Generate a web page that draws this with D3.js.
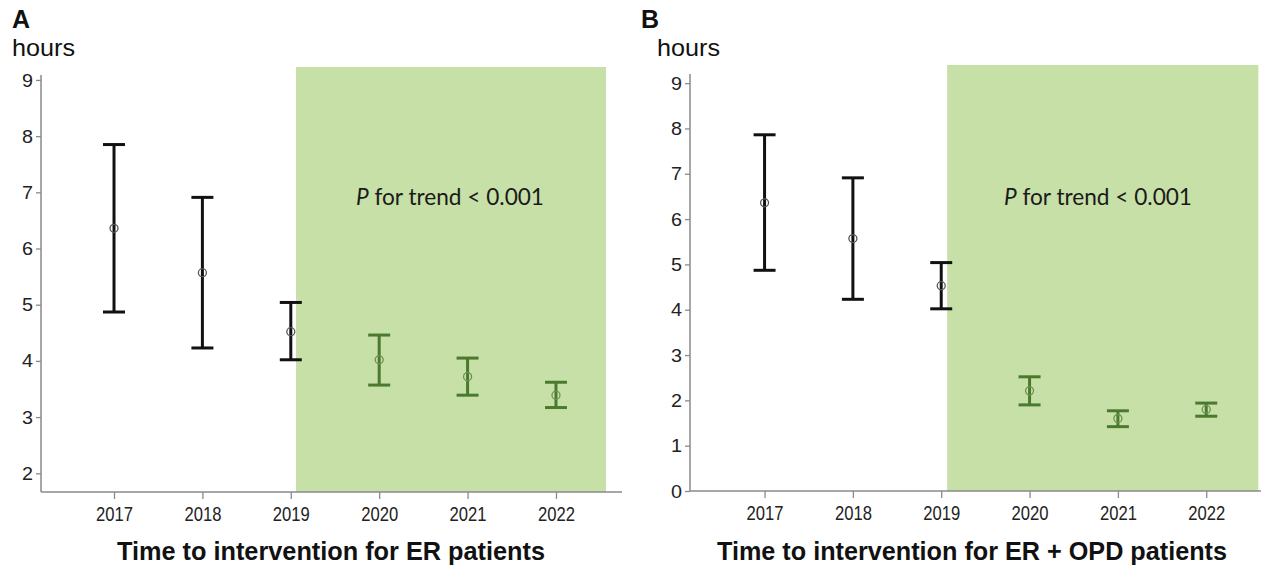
<!DOCTYPE html>
<html>
<head>
<meta charset="utf-8">
<script src="https://cdn.jsdelivr.net/npm/d3@7"></script>
<style>
  html, body { margin: 0; padding: 0; background: #fff; }
  svg { display: block; }
</style>
</head>
<body>
<svg id="chart" width="1261" height="568"></svg>
<script>
// ---- Data ----
const years = [2017, 2018, 2019, 2020, 2021, 2022];
const interventionStart = 2019;

const erMean  = [6.36, 5.57, 4.52, 4.02, 3.72, 3.39];
const erLower = [4.87, 4.23, 4.02, 3.57, 3.39, 3.17];
const erUpper = [7.85, 6.91, 5.04, 4.46, 4.05, 3.62];

const allMean  = [6.36, 5.57, 4.53, 2.21, 1.60, 1.80];
const allLower = [4.87, 4.23, 4.02, 1.90, 1.42, 1.65];
const allUpper = [7.86, 6.91, 5.04, 2.52, 1.77, 1.94];

const erTicks  = [2, 3, 4, 5, 6, 7, 8, 9];
const allTicks = [0, 1, 2, 3, 4, 5, 6, 7, 8, 9];

const panels = [
  {
    letter: "A", title: "Time to intervention for ER patients",
    mean: erMean, lower: erLower, upper: erUpper, yTicks: erTicks,
    yDomain: [1.667, 9.23], yRange: [492, 67], axisTop: 75,
    xDomain: [2016.174, 2022.747], xRange: [41, 622],
    greenX: [2019.059, 2022.566],
    letterX: 12, hoursX: 12, titleX: 331, titleW: 428, pX: 450
  },
  {
    letter: "B", title: "Time to intervention for ER + OPD patients",
    mean: allMean, lower: allLower, upper: allUpper, yTicks: allTicks,
    yDomain: [0, 9.4], yRange: [491, 65], axisTop: 74,
    xDomain: [2016.156, 2022.62], xRange: [690, 1261],
    greenX: [2019.067, 2022.59],
    letterX: 641, hoursX: 657, titleX: 972, titleW: 510, pX: 1098
  }
];

const svg = d3.select("#chart");
const axisColor = "#8a8a8a";
const black = "#111111";
const green = "#4b7a2f";
const sans = "Liberation Sans, Arial, sans-serif";

panels.forEach(p => {
  const g = svg.append("g");
  const x = d3.scaleLinear().domain(p.xDomain).range(p.xRange);
  const y = d3.scaleLinear().domain(p.yDomain).range(p.yRange);

  // green intervention region
  g.append("rect")
    .attr("x", x(p.greenX[0]))
    .attr("y", p.yRange[1])
    .attr("width", x(p.greenX[1]) - x(p.greenX[0]))
    .attr("height", p.yRange[0] - p.yRange[1])
    .attr("fill", "#c7e0a7");

  // y axis
  const yAxis = d3.axisLeft(y).tickValues(p.yTicks).tickSize(5).tickPadding(3).tickFormat(d3.format("d"));
  const ya = g.append("g").attr("transform", `translate(${p.xRange[0]},0)`).call(yAxis);
  ya.select(".domain").remove();
  ya.append("line")
    .attr("x1", 0).attr("x2", 0)
    .attr("y1", p.axisTop).attr("y2", p.yRange[0])
    .attr("stroke", axisColor).attr("stroke-width", 1.5);
  ya.selectAll(".tick line").attr("stroke", axisColor).attr("stroke-width", 1.3);
  ya.selectAll(".tick text")
    .attr("fill", "#222").attr("textLength", 11).attr("lengthAdjust", "spacingAndGlyphs")
    .style("font-family", sans).style("font-size", "19px");

  // x axis
  const xAxis = d3.axisBottom(x).tickValues(years).tickSize(7).tickPadding(8).tickFormat(d3.format("d"));
  const xa = g.append("g").attr("transform", `translate(0,${p.yRange[0]})`).call(xAxis);
  xa.select(".domain").remove();
  xa.append("line")
    .attr("x1", p.xRange[0]).attr("x2", p.xRange[1])
    .attr("y1", 0).attr("y2", 0)
    .attr("stroke", axisColor).attr("stroke-width", 1.5);
  xa.selectAll(".tick line").attr("stroke", axisColor).attr("stroke-width", 1.3);
  xa.selectAll(".tick text")
    .attr("fill", "#222").attr("textLength", 37).attr("lengthAdjust", "spacingAndGlyphs")
    .style("font-family", sans).style("font-size", "20px");

  // error bars
  const data = years.map((yr, i) => ({ yr, m: p.mean[i], lo: p.lower[i], hi: p.upper[i] }));
  const colorOf = d => d.yr > interventionStart ? green : black;
  const capW = 11;
  const eb = g.append("g").selectAll("g").data(data).join("g");
  eb.append("line")
    .attr("x1", d => x(d.yr)).attr("x2", d => x(d.yr))
    .attr("y1", d => y(d.hi)).attr("y2", d => y(d.lo))
    .attr("stroke", colorOf).attr("stroke-width", 3);
  eb.append("line")
    .attr("x1", d => x(d.yr) - capW).attr("x2", d => x(d.yr) + capW)
    .attr("y1", d => y(d.hi)).attr("y2", d => y(d.hi))
    .attr("stroke", colorOf).attr("stroke-width", 3);
  eb.append("line")
    .attr("x1", d => x(d.yr) - capW).attr("x2", d => x(d.yr) + capW)
    .attr("y1", d => y(d.lo)).attr("y2", d => y(d.lo))
    .attr("stroke", colorOf).attr("stroke-width", 3);
  eb.append("circle")
    .attr("cx", d => x(d.yr)).attr("cy", d => y(d.m)).attr("r", 4)
    .attr("fill", "none")
    .attr("stroke", d => d.yr > interventionStart ? "#6b9150" : "#555")
    .attr("stroke-width", 1.3);

  // labels
  g.append("text").attr("x", p.letterX).attr("y", 28).text(p.letter)
    .style("font-family", sans).style("font-weight", "bold").style("font-size", "25px").attr("fill", "#111");
  g.append("text").attr("x", p.hoursX).attr("y", 56).text("hours")
    .attr("textLength", 63).attr("lengthAdjust", "spacingAndGlyphs")
    .style("font-family", sans).style("font-size", "24px").attr("fill", "#111");

  const pt = g.append("text").attr("x", p.pX).attr("y", 205).attr("text-anchor", "middle")
    .attr("textLength", 188).attr("lengthAdjust", "spacingAndGlyphs")
    .style("font-family", "Lato, Open Sans, sans-serif").style("font-size", "24px").attr("fill", "#1a1a1a");
  pt.append("tspan").style("font-style", "italic").text("P");
  pt.append("tspan").text(" for trend < 0.001");

  g.append("text").attr("x", p.titleX).attr("y", 560).attr("text-anchor", "middle")
    .attr("textLength", p.titleW).attr("lengthAdjust", "spacingAndGlyphs")
    .text(p.title)
    .style("font-family", sans).style("font-weight", "bold").style("font-size", "25px").attr("fill", "#111");
});
</script>
</body>
</html>
